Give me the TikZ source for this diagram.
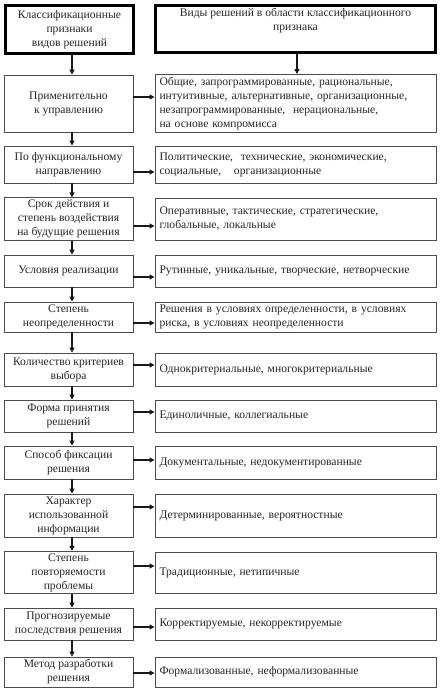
\documentclass[tikz,border=0pt]{standalone}
\usepackage{fontspec}
\setmainfont{Liberation Serif}
\usetikzlibrary{arrows.meta}
\begin{document}
\begin{tikzpicture}[x=1pt,y=-1pt,
  every node/.style={font=\fontsize{11.6}{14}\selectfont, text=black!85},
  lbox/.style={draw=black!70, line width=0.9pt, minimum width=129pt, inner sep=2pt, align=center},
  rbox/.style={draw=black!70, line width=0.9pt, minimum width=281pt, text width=272pt, inner xsep=4.5pt, inner ysep=1pt, align=left},
  hdr/.style={draw=black, line width=3pt, inner sep=3pt, align=center},
  arr/.style={draw=black!90, line width=1.4pt, -{Triangle[length=5pt,width=5pt]}}]
\useasboundingbox (0,0) rectangle (446,695);
\fill[white] (0,0) rectangle (446,695);

% headers
\node[hdr, minimum width=128pt, minimum height=48pt] (HL) at (69.5,29.5)
  {Классификационные\\признаки\\видов решений};
\node[hdr, minimum width=280pt, minimum height=47pt] (HR) at (295.5,29)
  {\parbox[c][41pt][t]{272pt}{\centering Виды решений в области классификационного\\признака}};

% left column
\node[lbox, minimum height=57pt] (L1) at (68.5,103.5) {Применительно\\к управлению};
\node[lbox, minimum height=37pt] (L2) at (68.5,164.5) {По функциональному\\направлению};
\node[lbox, minimum height=42pt] (L3) at (68.5,219) {Срок действия и\\степень воздействия\\на будущие решения};
\node[lbox, minimum height=32pt] (L4) at (68.5,271) {Условия реализации};
\node[lbox, minimum height=30pt] (L5) at (68.5,317) {Степень\\неопределенности};
\node[lbox, minimum height=33pt] (L6) at (68.5,369.5) {Количество критериев\\выбора};
\node[lbox, minimum height=32pt] (L7) at (68.5,416) {Форма принятия\\решений};
\node[lbox, minimum height=33pt] (L8) at (68.5,462.5) {Способ фиксации\\решения};
\node[lbox, minimum height=43pt] (L9) at (68.5,515.5) {Характер\\использованной\\информации};
\node[lbox, minimum height=41pt] (L10) at (68.5,572.5) {Степень\\повторяемости\\проблемы};
\node[lbox, minimum height=32pt] (L11) at (68.5,624) {Прогнозируемые\\последствия решения};
\node[lbox, minimum height=30pt] (L12) at (68.5,672) {Метод разработки\\решения};

% right column
\node[rbox, minimum height=58pt] (R1) at (295.5,103.5) {Общие, запрограммированные, рациональные,\\интуитивные, альтернативные, организационные,\\незапрограммированные,\ \ нерациональные,\\на основе компромисса};
\node[rbox, minimum height=37pt] (R2) at (295.5,164.5) {Политические,\ \ технические, экономические,\\социальные,\hspace{1.1em}организационные};
\node[rbox, minimum height=42pt] (R3) at (295.5,219) {Оперативные, тактические, стратегические,\\глобальные, локальные};
\node[rbox, minimum height=32pt] (R4) at (295.5,271) {Рутинные, уникальные, творческие, нетворческие};
\node[rbox, minimum height=30pt] (R5) at (295.5,317) {Решения в условиях определенности, в условиях\\риска, в условиях неопределенности};
\node[rbox, minimum height=33pt] (R6) at (295.5,369.5) {Однокритериальные, многокритериальные};
\node[rbox, minimum height=32pt] (R7) at (295.5,416) {Единоличные, коллегиальные};
\node[rbox, minimum height=33pt] (R8) at (295.5,462.5) {Документальные, недокументированные};
\node[rbox, minimum height=43pt] (R9) at (295.5,515.5) {Детерминированные, вероятностные};
\node[rbox, minimum height=41pt] (R10) at (295.5,572.5) {Традиционные, нетипичные};
\node[rbox, minimum height=32pt] (R11) at (295.5,624) {Корректируемые, некорректируемые};
\node[rbox, minimum height=30pt] (R12) at (295.5,672) {Формализованные, неформализованные};

% vertical arrows
\draw[arr] ([xshift=2.5pt]HL.south) -- ([xshift=3.5pt]L1.north);
\draw[arr] ([xshift=1.5pt]HR.south) -- ([xshift=1.5pt]R1.north);
\foreach \a/\b in {L1/L2,L2/L3,L3/L4,L4/L5,L5/L6,L6/L7,L7/L8,L8/L9,L9/L10,L10/L11,L11/L12}
  \draw[arr] ([xshift=3.5pt]\a.south) -- ([xshift=3.5pt]\b.north);

% horizontal arrows
\foreach \i/\y in {1/97,2/172,3/226,4/277,5/323,6/365,7/412,8/460,9/507,10/566,11/627,12/673}
  \draw[arr] (L\i.east |- 0,\y) -- (R\i.west |- 0,\y);
\end{tikzpicture}
\end{document}
